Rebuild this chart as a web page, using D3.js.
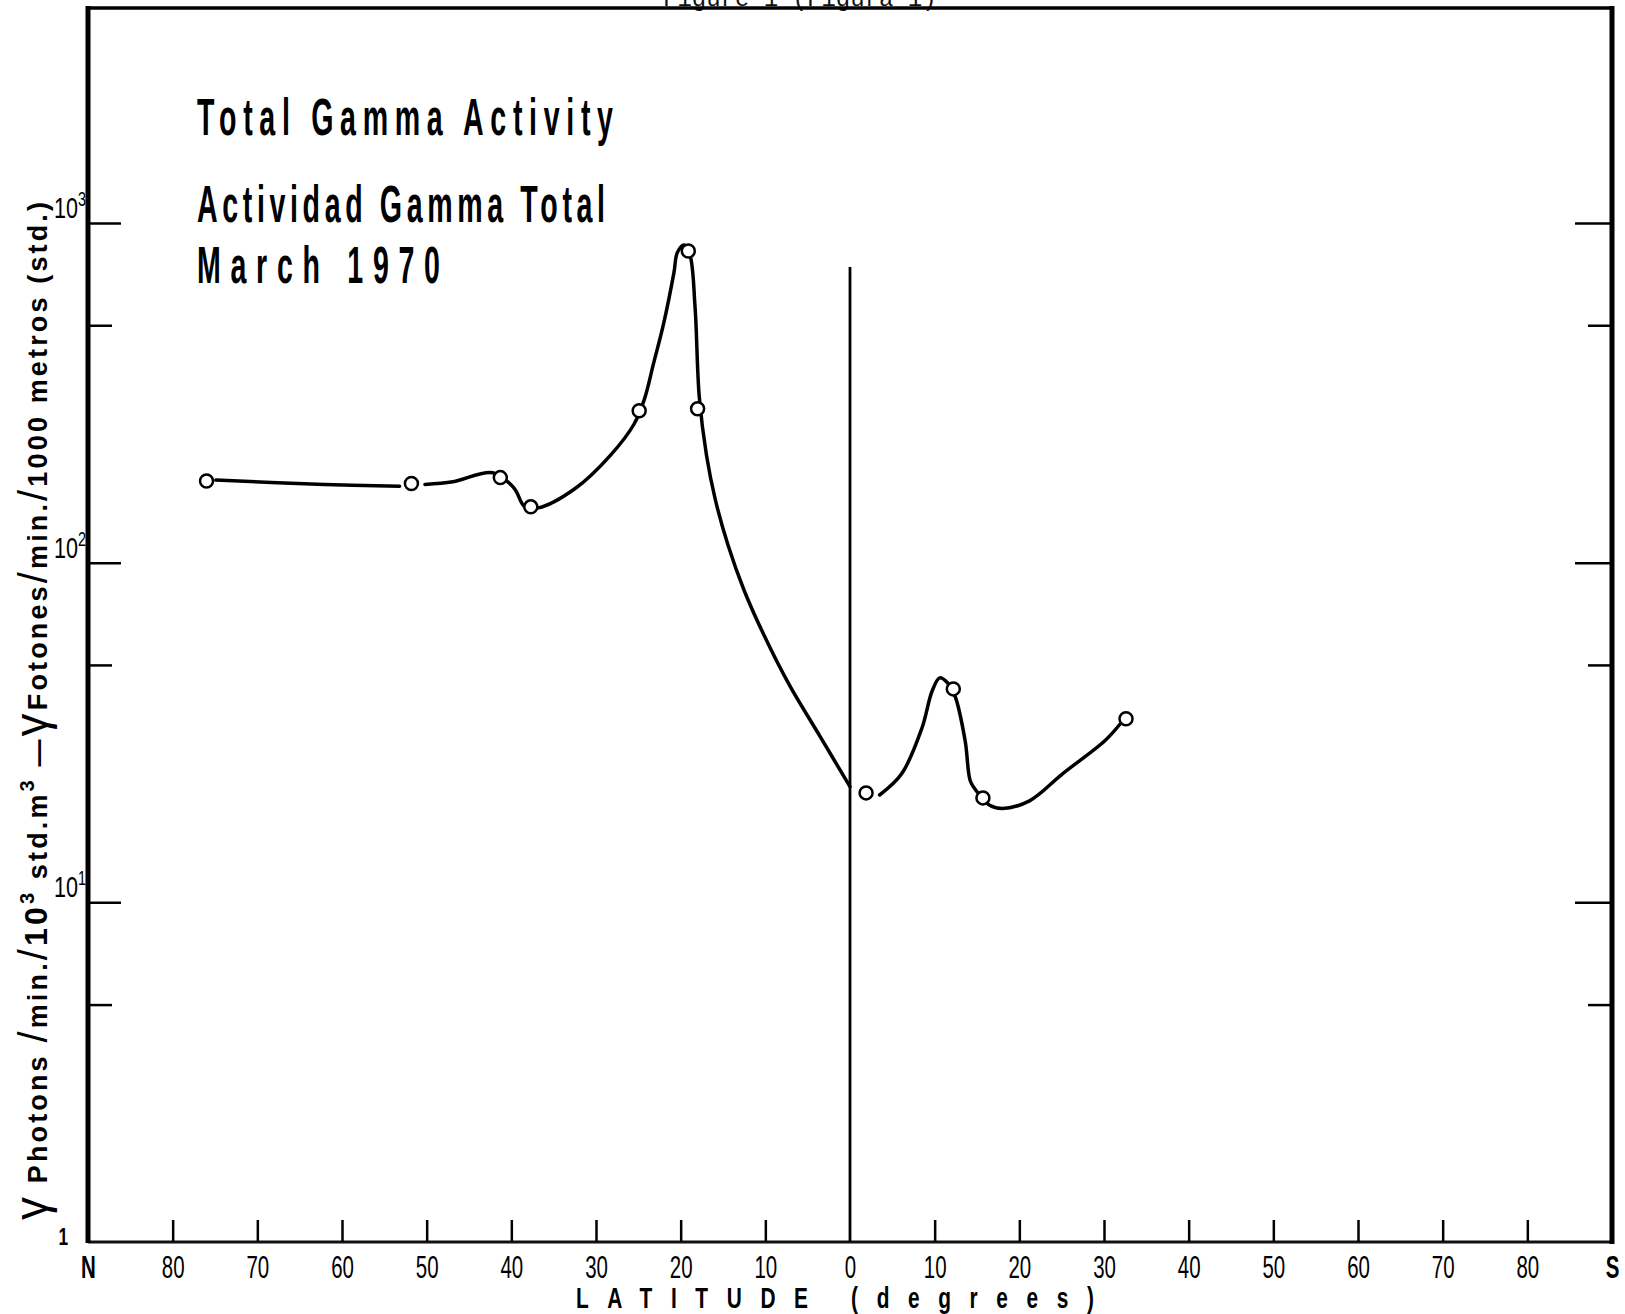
<!DOCTYPE html>
<html>
<head>
<meta charset="utf-8">
<script src="https://cdn.jsdelivr.net/npm/d3@7"></script>
<style>
  html, body { margin: 0; padding: 0; background: #fff; }
  svg { display: block; }
</style>
</head>
<body>
<main></main>
<script>
const W = 1625, H = 1314;
const FONT = "'Liberation Sans', Arial, sans-serif";

// Latitude in degrees: negative = North, positive = South.
const latTicks = [-90, -80, -70, -60, -50, -40, -30, -20, -10, 0, 10, 20, 30, 40, 50, 60, 70, 80, 90];
const majorTicks = [1, 10, 100, 1000];
const minorTicks = [5, 50, 500];

// Measured stations (circles)
const pointLat = [-76.0, -51.8, -41.3, -37.7, -24.9, -19.1, -18.0, 1.9, 12.2, 15.7, 32.6];
const pointVal = [174, 171, 178, 146, 280, 827, 284, 21.0, 42.5, 20.3, 34.7];

// Hand-drawn curve, in three pieces
const curveNorth = [[-74.9, 175], [-62.1, 170], [-53.2, 168]];
const curveMid = [
  [-50.2, 170], [-46.9, 173], [-42.2, 184], [-39.7, 166], [-38.4, 146], [-36.8, 145],
  [-32.5, 165], [-28.3, 207], [-25.5, 256], [-24.3, 302], [-23.2, 386], [-22.0, 507],
  [-20.8, 713], [-20.4, 817], [-19.6, 861], [-18.9, 805], [-18.3, 565], [-17.8, 307],
  [-16.95, 207], [-15.9, 153], [-14.4, 112.5], [-12.5, 82.8], [-10.15, 61.1],
  [-7.2, 43.8], [-3.54, 30.8], [0, 21.9]
];
const curveSouth = [
  [3.5, 20.7], [6.1, 23.9], [8.5, 32.6], [9.7, 41.9], [10.6, 45.8], [11.5, 44.3],
  [12.4, 40.5], [13.6, 29.9], [14.2, 22.8], [14.8, 21.5], [16.5, 19.3], [18.0, 18.9],
  [21.2, 19.9], [25.1, 23.9], [30.1, 29.9], [31.9, 33.5]
];

const titleLines = ["Total Gamma Activity", "Actividad Gamma Total", "March 1970"];

const plotLeft = 88, plotRight = 1612, plotTop = 8, plotBottom = 1242;

const x = d3.scaleLinear().domain([-90, 90]).range([plotLeft, plotRight]);
const y = d3.scaleLog().domain([1, 1000]).range([plotBottom, 223]);

const svg = d3.create("svg")
  .attr("width", W)
  .attr("height", H)
  .style("background", "#fff");

// Clipped header from the page above the frame
svg.append("text")
  .attr("x", 663)
  .attr("y", 6)
  .attr("font-family", "'Liberation Mono', 'DejaVu Sans Mono', monospace")
  .attr("font-size", 24)
  .attr("fill", "#111")
  .text("Figure 1 (Figura 1)");

// Frame
svg.append("line").attr("x1", plotLeft - 2).attr("x2", plotRight + 2).attr("y1", plotTop).attr("y2", plotTop)
  .attr("stroke", "#000").attr("stroke-width", 3.5);
svg.append("line").attr("x1", plotLeft).attr("x2", plotRight).attr("y1", plotBottom).attr("y2", plotBottom)
  .attr("stroke", "#111").attr("stroke-width", 3);
svg.append("line").attr("x1", plotLeft).attr("x2", plotLeft).attr("y1", plotTop - 2).attr("y2", plotBottom + 1)
  .attr("stroke", "#000").attr("stroke-width", 5);
svg.append("line").attr("x1", plotRight).attr("x2", plotRight).attr("y1", plotTop - 2).attr("y2", plotBottom + 2)
  .attr("stroke", "#000").attr("stroke-width", 5);

// Bottom axis: ticks pointing up into the plot
const xAxis = svg.append("g")
  .attr("transform", `translate(0,${plotBottom})`)
  .call(d3.axisBottom(x)
    .tickValues(latTicks)
    .tickSizeInner(-22)
    .tickSizeOuter(0)
    .tickPadding(0)
    .tickFormat((d) => (d === -90 ? "N" : d === 90 ? "S" : Math.abs(d))));
xAxis.select(".domain").remove();
xAxis.selectAll(".tick line").attr("stroke", "#000").attr("stroke-width", 2.5)
  .attr("display", (d) => (Math.abs(d) === 90 || d === 0 ? "none" : null));
xAxis.selectAll(".tick text")
  .attr("font-family", FONT)
  .attr("font-size", 31)
  .attr("font-weight", (d) => (Math.abs(d) === 90 ? "bold" : "normal"))
  .attr("fill", "#000")
  .attr("y", 36)
  .attr("dy", null)
  .attr("transform", "scale(0.66,1)");

// Equator line
svg.append("line")
  .attr("x1", x(0)).attr("x2", x(0))
  .attr("y1", 267).attr("y2", plotBottom)
  .attr("stroke", "#000").attr("stroke-width", 2.8);

// Left and right log axes
const allTicks = majorTicks.concat(minorTicks);
const yLeft = svg.append("g")
  .attr("transform", `translate(${plotLeft},0)`)
  .call(d3.axisRight(y).tickValues(allTicks).tickFormat(""));
yLeft.select(".domain").remove();
yLeft.selectAll(".tick line")
  .attr("x2", (d) => (majorTicks.includes(d) ? 33 : 24))
  .attr("stroke", "#000").attr("stroke-width", 2.5)
  .attr("display", (d) => (d === 1 ? "none" : null));

const yRight = svg.append("g")
  .attr("transform", `translate(${plotRight},0)`)
  .call(d3.axisLeft(y).tickValues(allTicks).tickFormat(""));
yRight.select(".domain").remove();
yRight.selectAll(".tick line")
  .attr("x2", (d) => (majorTicks.includes(d) ? -37 : -24))
  .attr("stroke", "#000").attr("stroke-width", 2.5)
  .attr("display", (d) => (d === 1 ? "none" : null));

// Y tick labels 1, 10^1, 10^2, 10^3
majorTicks.forEach((v) => {
  const g = svg.append("g")
    .attr("transform", `translate(${v === 1 ? 68 : plotLeft - 2},${y(v) - (v === 1 ? -3 : 5)}) scale(0.72,1)`);
  const t = g.append("text")
    .attr("text-anchor", "end")
    .attr("font-family", FONT)
    .attr("font-size", 30)
    .attr("fill", "#000");
  if (v === 1) {
    t.attr("font-weight", "bold").attr("font-size", 24).text("1");
  } else {
    t.append("tspan").text("10");
    t.append("tspan").attr("dy", -12).attr("font-size", 20).text(Math.log10(v));
  }
});

// Y axis title, rotated
const yTitle = svg.append("text")
  .attr("transform", `translate(47,${(202 + 1220) / 2}) rotate(-90)`)
  .attr("text-anchor", "middle")
  .attr("font-family", FONT)
  .attr("font-weight", "bold")
  .attr("font-size", 27)
  .attr("fill", "#000")
  .attr("textLength", 1018)
  .attr("lengthAdjust", "spacing");
[
  ["γ", { "font-size": 46, "font-weight": "normal" }],
  [" Photons ", {}],
  ["/", { "font-size": 40, "font-weight": "normal" }],
  ["min.", {}],
  ["/", { "font-size": 40, "font-weight": "normal" }],
  ["10", { "font-size": 32 }],
  ["3", { "font-size": 20, dy: -13 }],
  [" std.m", { dy: 13 }],
  ["3", { "font-size": 20, dy: -13 }],
  [" —", { dy: 13 }],
  ["γ", { "font-size": 46, "font-weight": "normal" }],
  ["Fotones", {}],
  ["/", { "font-size": 40, "font-weight": "normal" }],
  ["min.", {}],
  ["/", { "font-size": 40, "font-weight": "normal" }],
  ["1000 metros (std.)", {}]
].forEach(([s, attrs]) => {
  const ts = yTitle.append("tspan").text(s);
  Object.entries(attrs).forEach(([k, val]) => ts.attr(k, val));
});

// X axis title
const xsx = 0.72;
svg.append("g")
  .attr("transform", `translate(576,1308) scale(${xsx},1)`)
  .append("text")
  .attr("font-family", FONT)
  .attr("font-weight", "bold")
  .attr("font-size", 29)
  .attr("fill", "#000")
  .attr("textLength", 518 / xsx)
  .attr("lengthAdjust", "spacing")
  .text("LATITUDE (degrees)");

// Chart title block (narrow, letter-spaced lettering)
const titleY = [135, 222, 283];
const titleLen = [416, 408, 243];
const tsx = 0.56;
titleLines.forEach((s, i) => {
  svg.append("g")
    .attr("transform", `translate(197,${titleY[i]}) scale(${tsx},1)`)
    .append("text")
    .attr("font-family", FONT)
    .attr("font-weight", "bold")
    .attr("font-size", 51)
    .attr("fill", "#000")
    .attr("textLength", titleLen[i] / tsx)
    .attr("lengthAdjust", "spacing")
    .text(s);
});

// Curve
const line = d3.line()
  .x((d) => x(d[0]))
  .y((d) => y(d[1]))
  .curve(d3.curveCatmullRom.alpha(0.5));

svg.append("g")
  .attr("fill", "none")
  .attr("stroke", "#000")
  .attr("stroke-width", 3.5)
  .attr("stroke-linecap", "round")
  .selectAll("path")
  .data([curveNorth, curveMid, curveSouth])
  .join("path")
  .attr("d", line);

// Station circles
svg.append("g")
  .selectAll("circle")
  .data(d3.range(pointLat.length))
  .join("circle")
  .attr("cx", (i) => x(pointLat[i]))
  .attr("cy", (i) => y(pointVal[i]))
  .attr("r", 6.5)
  .attr("fill", "#fff")
  .attr("stroke", "#000")
  .attr("stroke-width", 2.5);

document.querySelector("main").append(svg.node());
</script>
</body>
</html>
